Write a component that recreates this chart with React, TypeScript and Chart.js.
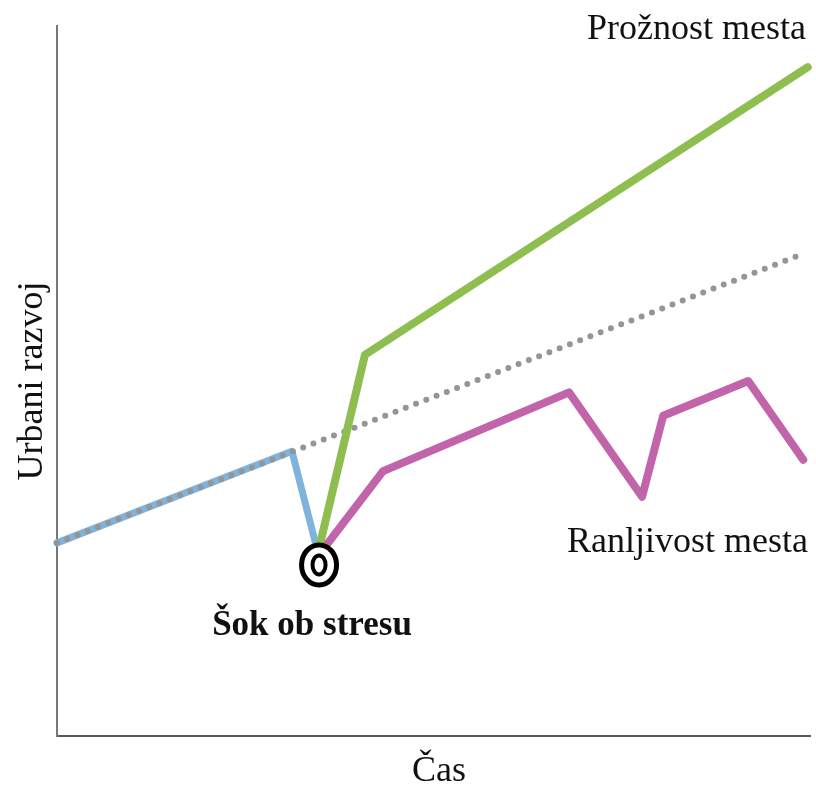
import React, { useEffect, useRef } from "react";
import { Chart, registerables } from "chart.js";

Chart.register(...registerables);

// Dotted trend (pre-shock development continued)
const trendX = [0, 98.1];
const trendY = [27.2, 67.5];

// Blue: development before the shock
const beforeX = [0, 31.2, 34.4];
const beforeY = [27.2, 40.1, 26.9];

// Green: resilience ("Prožnost mesta")
const resilienceX = [34.9, 40.9, 99.7];
const resilienceY = [26.9, 53.7, 94.2];

// Magenta: vulnerability ("Ranljivost mesta")
const vulnerabilityX = [35.5, 43.3, 68.0, 77.7, 80.5, 91.8, 99.1];
const vulnerabilityY = [26.5, 37.3, 48.4, 33.7, 45.1, 50.0, 38.9];

// Shock marker
const shockX = [34.8];
const shockY = [24.1];

const labels = {
  yTitle: "Urbani razvoj",
  xTitle: "Čas",
  resilience: "Prožnost mesta",
  vulnerability: "Ranljivost mesta",
  shock: "Šok ob stresu",
};

const pts = (xs: number[], ys: number[]) => xs.map((x, i) => ({ x, y: ys[i] }));

const FONT = "'Liberation Serif', 'Times New Roman', serif";

export default function App() {
  const ref = useRef<HTMLCanvasElement | null>(null);

  useEffect(() => {
    if (!ref.current) return;
    const textPlugin = {
      id: "texts",
      afterDatasetsDraw(chart: any) {
        const { ctx, scales } = chart;
        const xs = scales.x;
        const ys = scales.y;
        ctx.save();
        // shock marker rings
        const cx = xs.getPixelForValue(shockX[0]);
        const cy = ys.getPixelForValue(shockY[0]);
        ctx.fillStyle = "#ffffff";
        ctx.strokeStyle = "#000000";
        ctx.lineWidth = 5;
        ctx.beginPath();
        ctx.ellipse(cx, cy, 17.5, 20, 0, 0, Math.PI * 2);
        ctx.fill();
        ctx.stroke();
        ctx.lineWidth = 4;
        ctx.beginPath();
        ctx.ellipse(cx, cy, 6.5, 9.5, 0, 0, Math.PI * 2);
        ctx.stroke();

        ctx.fillStyle = "#111111";
        ctx.textBaseline = "alphabetic";
        ctx.font = `36px ${FONT}`;
        ctx.textAlign = "right";
        ctx.fillText(labels.resilience, 806, 39);
        ctx.fillText(labels.vulnerability, 808, 552);
        ctx.textAlign = "center";
        ctx.fillText(labels.xTitle, 439, 781);
        ctx.font = `bold 35px ${FONT}`;
        ctx.fillText(labels.shock, 312, 635);
        ctx.font = `36px ${FONT}`;
        ctx.translate(42, 381);
        ctx.rotate(-Math.PI / 2);
        ctx.fillText(labels.yTitle, 0, 0);
        ctx.restore();
      },
    };

    const chart = new Chart(ref.current, {
      type: "line",
      data: {
        datasets: [
          {
            data: pts(beforeX, beforeY),
            borderColor: "#7fb3dc",
            borderWidth: 7,
            pointRadius: 0,
            borderCapStyle: "round",
            borderJoinStyle: "round",
            order: 5,
          } as any,
          {
            data: pts(trendX, trendY),
            borderColor: "#959595",
            borderWidth: 6,
            borderDash: [0, 11],
            borderCapStyle: "round",
            pointRadius: 0,
            order: 4,
          } as any,
          {
            data: pts(resilienceX, resilienceY),
            borderColor: "#8fbe50",
            borderWidth: 8,
            pointRadius: 0,
            borderCapStyle: "round",
            borderJoinStyle: "round",
            order: 3,
          } as any,
          {
            data: pts(vulnerabilityX, vulnerabilityY),
            borderColor: "#c264a9",
            borderWidth: 8,
            pointRadius: 0,
            borderCapStyle: "round",
            borderJoinStyle: "round",
            order: 2,
          } as any,
        ],
      },
      options: {
        animation: false,
        responsive: false,
        devicePixelRatio: 1,
        clip: false as any,
        layout: { padding: { left: 57, top: 26, right: 6, bottom: 49 } },
        plugins: { legend: { display: false }, tooltip: { enabled: false } },
        scales: {
          x: {
            type: "linear",
            min: 0,
            max: 100,
            ticks: { display: false },
            grid: { display: false, drawTicks: false },
            border: { display: true, color: "#5a5a5a", width: 2 },
          },
          y: {
            type: "linear",
            min: 0,
            max: 100,
            ticks: { display: false },
            grid: { display: false, drawTicks: false },
            border: { display: true, color: "#777777", width: 2 },
          },
        },
      },
      plugins: [textPlugin],
    });
    return () => chart.destroy();
  }, []);

  return (
    <div style={{ position: "fixed", left: 0, top: 0, width: 816, height: 785, background: "#fff" }}>
      <canvas ref={ref} width={816} height={785} />
    </div>
  );
}
